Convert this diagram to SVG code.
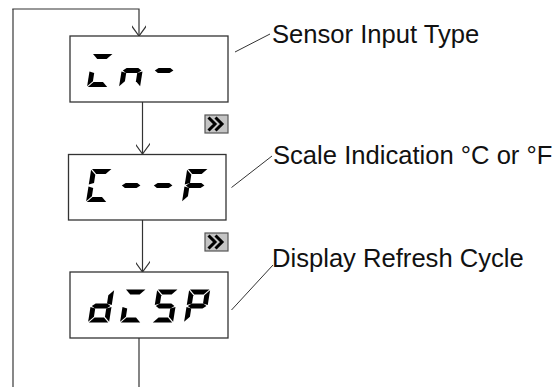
<svg xmlns="http://www.w3.org/2000/svg" xmlns:xlink="http://www.w3.org/1999/xlink" width="557" height="387" viewBox="0 0 557 387">
<style>
.box{fill:#fff;stroke:#333;stroke-width:1.3}
.conn{fill:none;stroke:#333;stroke-width:1.2}
.loop{fill:none;stroke:#555;stroke-width:1.4}
.lead{fill:none;stroke:#333;stroke-width:1}
.lbl{font-family:"Liberation Sans",Arial,sans-serif;font-size:25.6px;fill:#111}
.seg{fill:#000}
.btn rect{fill:#c4c4c4;stroke:#555;stroke-width:1.2}
.btn path{fill:none;stroke:#000;stroke-width:3}
</style>
<defs>
<marker id="arr" markerWidth="18" markerHeight="14" refX="16" refY="7" orient="auto" markerUnits="userSpaceOnUse">
<path d="M5,-1 L16,7 L5,15" fill="none" stroke="#333" stroke-width="1.2"/>
</marker>
<polygon id="sa" class="seg" points="0.8,-33 20.2,-33 15.2,-28 5.8,-28"/>
<polygon id="sb" class="seg" points="21,-32.2 21,-17.4 16,-19 16,-27.2"/>
<polygon id="sc" class="seg" points="21,-15.6 21,-0.8 16,-5.8 16,-14"/>
<polygon id="sd" class="seg" points="5.8,-5 15.2,-5 20.2,0 0.8,0"/>
<polygon id="se" class="seg" points="0,-15.6 5,-14 5,-5.8 0,-0.8"/>
<polygon id="sf" class="seg" points="0,-32.2 5,-27.2 5,-19 0,-17.4"/>
<polygon id="sg" class="seg" points="1.2,-16.5 4.7,-19 16.3,-19 19.8,-16.5 16.3,-14 4.7,-14"/>
</defs>

<g id="connectors">
<path class="loop" d="M13,387 V9"/>
<path class="conn" d="M12.3,9 H139 V36" marker-end="url(#arr)"/>
<path class="conn" d="M142.5,102 V154" marker-end="url(#arr)"/>
<path class="conn" d="M142.5,220 V272" marker-end="url(#arr)"/>
<path class="conn" d="M139,338 V387"/>
<path class="lead" d="M235,52 L270,34"/>
<path class="lead" d="M231.5,187.5 L272,156"/>
<path class="lead" d="M231.5,310 L273,265"/>
</g>

<g id="node-input">
<rect class="box" x="70" y="36" width="158" height="66"/>
<g transform="translate(87,87) skewX(-9)"><use xlink:href="#sa"/><use xlink:href="#se"/><use xlink:href="#sd"/></g>
<g transform="translate(119,87) skewX(-9)"><use xlink:href="#sc"/><use xlink:href="#se"/><use xlink:href="#sg"/></g>
<g transform="translate(151,87) skewX(-9)"><use xlink:href="#sg"/></g>
<text class="lbl" x="272" y="43">Sensor Input Type</text>
</g>

<g id="btn-1" class="btn">
<rect x="205" y="115" width="23" height="18"/>
<path d="M208.5,117.5 L215,124 L208.5,130.5 M215.5,117.5 L222,124 L215.5,130.5"/>
</g>

<g id="node-scale">
<rect class="box" x="68.5" y="154.5" width="157.5" height="65.5"/>
<g transform="translate(86,202) skewX(-9)"><use xlink:href="#sa"/><use xlink:href="#sf"/><use xlink:href="#se"/><use xlink:href="#sd"/></g>
<g transform="translate(118,202) skewX(-9)"><use xlink:href="#sg"/></g>
<g transform="translate(150,202) skewX(-9)"><use xlink:href="#sg"/></g>
<g transform="translate(182,202) skewX(-9)"><use xlink:href="#sa"/><use xlink:href="#sf"/><use xlink:href="#se"/><use xlink:href="#sg"/></g>
<text class="lbl" x="273" y="164">Scale Indication °C or °F</text>
</g>

<g id="btn-2" class="btn">
<rect x="205" y="233" width="23" height="18"/>
<path d="M208.5,235.5 L215,242 L208.5,248.5 M215.5,235.5 L222,242 L215.5,248.5"/>
</g>

<g id="node-display">
<rect class="box" x="70" y="272" width="158" height="66"/>
<g transform="translate(88,322.5) skewX(-9)"><use xlink:href="#sb"/><use xlink:href="#sc"/><use xlink:href="#sd"/><use xlink:href="#se"/><use xlink:href="#sg"/></g>
<g transform="translate(120,322.5) skewX(-9)"><use xlink:href="#sa"/><use xlink:href="#se"/><use xlink:href="#sd"/></g>
<g transform="translate(152,322.5) skewX(-9)"><use xlink:href="#sa"/><use xlink:href="#sf"/><use xlink:href="#sg"/><use xlink:href="#sc"/><use xlink:href="#sd"/></g>
<g transform="translate(184,322.5) skewX(-9)"><use xlink:href="#sa"/><use xlink:href="#sb"/><use xlink:href="#sf"/><use xlink:href="#sg"/><use xlink:href="#se"/></g>
<text class="lbl" x="272" y="267">Display Refresh Cycle</text>
</g>
</svg>
